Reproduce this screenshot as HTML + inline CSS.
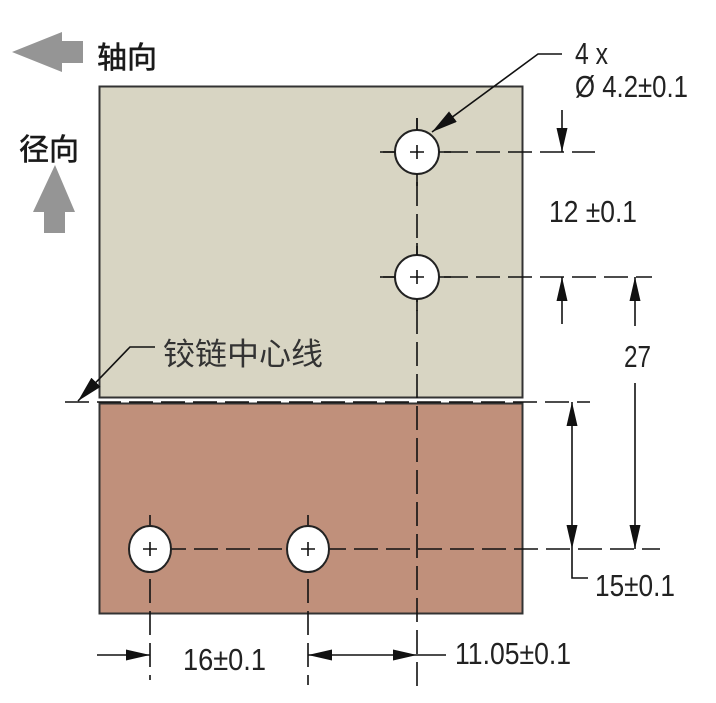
<!DOCTYPE html>
<html><head><meta charset="utf-8"><style>
html,body{margin:0;padding:0;background:#fff;width:716px;height:703px;overflow:hidden}
text{font-family:"Liberation Sans Narrow","Liberation Sans",sans-serif;fill:#222}
</style></head><body>
<svg width="716" height="703" viewBox="0 0 716 703" xmlns="http://www.w3.org/2000/svg">
<defs>
<marker id="a" viewBox="0 0 10 10" refX="10" refY="5" markerWidth="24" markerHeight="11" markerUnits="userSpaceOnUse" orient="auto-start-reverse" preserveAspectRatio="none"><path d="M0,0 L10,5 L0,10 z" fill="#111"/></marker>
<marker id="b" viewBox="0 0 10 10" refX="10" refY="5" markerWidth="26" markerHeight="13" markerUnits="userSpaceOnUse" orient="auto-start-reverse" preserveAspectRatio="none"><path d="M0,0 L10,5 L0,10 z" fill="#111"/></marker>
</defs>
<polygon points="12,52 62,32 62,41 83,41 83,63 62,63 62,72" fill="#959595"/>
<polygon points="55,165 75,212 65,212 65,233 44,233 44,212 33,212" fill="#959595"/>
<text x="97" y="68" font-size="30" stroke="#1a1a1a" stroke-width="0.6" style="font-family:'Noto Sans CJK SC',sans-serif;fill:#1a1a1a">轴向</text>
<text x="19" y="160" font-size="30" stroke="#1a1a1a" stroke-width="0.6" style="font-family:'Noto Sans CJK SC',sans-serif;fill:#1a1a1a">径向</text>
<rect x="99.5" y="86.5" width="423" height="311" fill="#d8d5c3" stroke="#333" stroke-width="2"/>
<rect x="99.5" y="403.5" width="423" height="210" fill="#c0907b" stroke="#333" stroke-width="2"/>
<g stroke="#111" stroke-width="1.6" fill="none" stroke-dasharray="24,8">
<line x1="380" y1="152" x2="595" y2="152"/>
<line x1="380" y1="277" x2="652" y2="277"/>
<line x1="417" y1="118" x2="417" y2="686"/>
<line x1="65" y1="402" x2="590" y2="402"/>
<line x1="130" y1="549" x2="660" y2="549"/>
<line x1="150" y1="515" x2="150" y2="680"/>
<line x1="308" y1="515" x2="308" y2="685"/>
</g>
<g fill="#fff" stroke="#222" stroke-width="2">
<circle cx="417" cy="152" r="22"/>
<circle cx="417" cy="277" r="22"/>
<ellipse cx="150" cy="549" rx="21" ry="23"/>
<ellipse cx="308" cy="549" rx="21" ry="23"/>
</g>
<g stroke="#111" stroke-width="1.6">
<path d="M410,152h14M417,145v14M410,277h14M417,270v14M143,549h14M150,542v14M301,549h14M308,542v14"/>
<path d="M395,152h-12M439,152h12M417,130v-12M417,174v12M395,277h-12M439,277h12M417,255v-12M417,299v12"/>
</g>
<g stroke="#111" stroke-width="1.6" fill="none">
<polyline points="562,54 538,54 432,132" marker-end="url(#b)"/>
<polyline points="155,347 130,347 78,401" marker-end="url(#b)"/>
<line x1="562" y1="110" x2="562" y2="152" marker-end="url(#a)"/>
<line x1="562" y1="324" x2="562" y2="277" marker-end="url(#a)"/>
<line x1="635" y1="326" x2="635" y2="277" marker-end="url(#a)"/>
<line x1="635" y1="383" x2="635" y2="549" marker-end="url(#a)"/>
<line x1="572" y1="402" x2="572" y2="549" marker-start="url(#a)" marker-end="url(#a)"/>
<polyline points="572,549 572,578 588,578"/>
<line x1="97" y1="655" x2="150" y2="655" marker-end="url(#a)"/>
<line x1="308" y1="655" x2="417" y2="655" marker-start="url(#a)" marker-end="url(#a)"/>
<line x1="417" y1="655" x2="446" y2="655"/>
</g>
<g font-size="31">
<text x="575" y="64" textLength="33" lengthAdjust="spacingAndGlyphs">4 x</text>
<text x="575" y="97" textLength="113" lengthAdjust="spacingAndGlyphs">Ø 4.2±0.1</text>
<text x="549" y="222" textLength="88" lengthAdjust="spacingAndGlyphs">12 ±0.1</text>
<text x="624" y="367" textLength="27" lengthAdjust="spacingAndGlyphs">27</text>
<text x="595" y="596" textLength="80" lengthAdjust="spacingAndGlyphs">15±0.1</text>
<text x="183" y="670" textLength="83" lengthAdjust="spacingAndGlyphs">16±0.1</text>
<text x="455" y="664" textLength="116" lengthAdjust="spacingAndGlyphs">11.05±0.1</text>
</g>
<text x="163" y="365" font-size="31" textLength="160" lengthAdjust="spacingAndGlyphs" style="font-family:'Noto Sans CJK SC',sans-serif;fill:#333">铰链中心线</text>
</svg>
</body></html>
